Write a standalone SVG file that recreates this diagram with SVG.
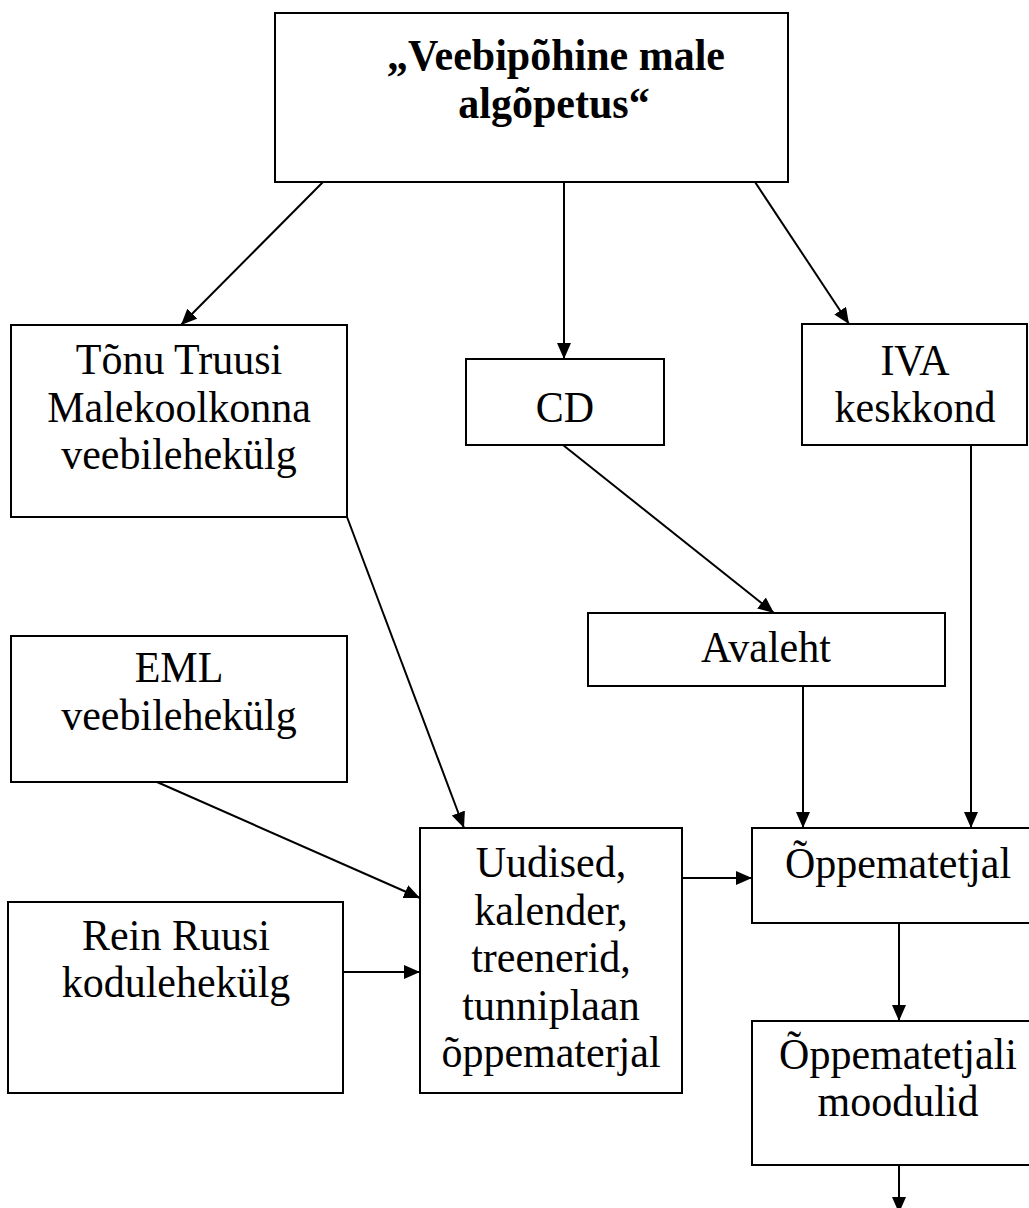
<svg xmlns="http://www.w3.org/2000/svg" width="1029" height="1208" viewBox="0 0 1029 1208">
  <style>
    .box { fill: #ffffff; stroke: #000000; stroke-width: 2; }
    .lbl { font-family: "Liberation Serif", "Times New Roman", serif; font-size: 42px; fill: #000000; text-anchor: middle; }
    .title { font-weight: bold; }
    .edge { stroke: #000000; stroke-width: 2; fill: none; marker-end: url(#arrow); }
  </style>
  <defs>
    <marker id="arrow" markerUnits="userSpaceOnUse" markerWidth="17" markerHeight="15" refX="16" refY="7" orient="auto">
      <path d="M0,0 L16,7 L0,14 z" fill="#000000"/>
    </marker>
  </defs>
  <rect width="1029" height="1208" fill="#ffffff"/>

  <g id="connectors">
    <line class="edge" x1="323" y1="182" x2="181" y2="325"/>
    <line class="edge" x1="564" y1="182" x2="564" y2="359"/>
    <line class="edge" x1="755" y1="182" x2="849" y2="324"/>
    <line class="edge" x1="563" y1="445" x2="774" y2="613"/>
    <line class="edge" x1="971" y1="445" x2="971" y2="828"/>
    <line class="edge" x1="803" y1="686" x2="803" y2="828"/>
    <line class="edge" x1="347" y1="517" x2="464" y2="828"/>
    <line class="edge" x1="157" y1="782" x2="420" y2="898"/>
    <line class="edge" x1="343" y1="972" x2="420" y2="972"/>
    <line class="edge" x1="682" y1="878" x2="752" y2="878"/>
    <line class="edge" x1="899" y1="923" x2="899" y2="1021"/>
    <line class="edge" x1="899" y1="1165" x2="899" y2="1213"/>
  </g>

  <g id="node-root">
    <rect class="box" x="275" y="13" width="513" height="169"/>
    <text class="lbl title" transform="translate(556 70) scale(1 1.07)">„Veebipõhine male</text>
    <text class="lbl title" transform="translate(554 118) scale(1 1.07)">algõpetus“</text>
  </g>

  <g id="node-tonu">
    <rect class="box" x="11" y="325" width="336" height="192"/>
    <text class="lbl" transform="translate(179 374) scale(1 1.07)">Tõnu Truusi</text>
    <text class="lbl" transform="translate(179 422) scale(1 1.07)">Malekoolkonna</text>
    <text class="lbl" transform="translate(179 469) scale(1 1.07)">veebilehekülg</text>
  </g>

  <g id="node-cd">
    <rect class="box" x="466" y="359" width="198" height="86"/>
    <text class="lbl" transform="translate(565 422) scale(1 1.07)">CD</text>
  </g>

  <g id="node-iva">
    <rect class="box" x="802" y="324" width="225" height="121"/>
    <text class="lbl" transform="translate(915 375) scale(1 1.07)">IVA</text>
    <text class="lbl" transform="translate(915 422) scale(1 1.07)">keskkond</text>
  </g>

  <g id="node-avaleht">
    <rect class="box" x="588" y="613" width="357" height="73"/>
    <text class="lbl" transform="translate(766 662) scale(1 1.07)">Avaleht</text>
  </g>

  <g id="node-eml">
    <rect class="box" x="11" y="636" width="336" height="146"/>
    <text class="lbl" transform="translate(179 682) scale(1 1.07)">EML</text>
    <text class="lbl" transform="translate(179 730) scale(1 1.07)">veebilehekülg</text>
  </g>

  <g id="node-rein">
    <rect class="box" x="8" y="902" width="335" height="191"/>
    <text class="lbl" transform="translate(176 950) scale(1 1.07)">Rein Ruusi</text>
    <text class="lbl" transform="translate(176 997) scale(1 1.07)">kodulehekülg</text>
  </g>

  <g id="node-uudised">
    <rect class="box" x="420" y="828" width="262" height="265"/>
    <text class="lbl" transform="translate(551 877) scale(1 1.07)">Uudised,</text>
    <text class="lbl" transform="translate(551 925) scale(1 1.07)">kalender,</text>
    <text class="lbl" transform="translate(551 972) scale(1 1.07)">treenerid,</text>
    <text class="lbl" transform="translate(551 1020) scale(1 1.07)">tunniplaan</text>
    <text class="lbl" transform="translate(551 1067) scale(1 1.07)">õppematerjal</text>
  </g>

  <g id="node-oppematerjal">
    <rect class="box" x="752" y="828" width="295" height="95"/>
    <text class="lbl" transform="translate(898 878) scale(1 1.07)">Õppematetjal</text>
  </g>

  <g id="node-moodulid">
    <rect class="box" x="752" y="1021" width="295" height="144"/>
    <text class="lbl" transform="translate(898 1069) scale(1 1.07)">Õppematetjali</text>
    <text class="lbl" transform="translate(898 1116) scale(1 1.07)">moodulid</text>
  </g>
</svg>
